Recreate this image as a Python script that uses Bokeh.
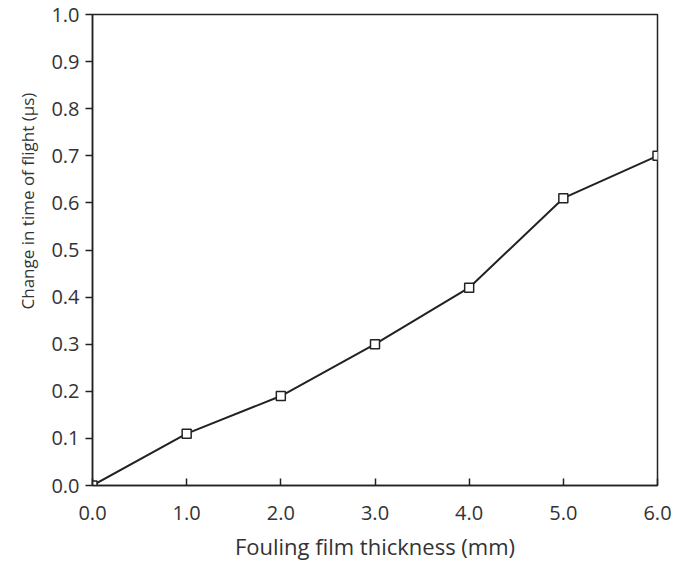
from bokeh.plotting import figure
from bokeh.models import FixedTicker, Range1d, CustomJSTickFormatter, Title
from bokeh.embed import file_html
from bokeh.resources import INLINE

thickness_mm = [0.0, 1.0, 2.0, 3.0, 4.0, 5.0, 6.0]
delta_tof_us = [0.0, 0.11, 0.19, 0.30, 0.42, 0.61, 0.70]
x_ticks = [0, 1, 2, 3, 4, 5, 6]
y_ticks = [0.0, 0.1, 0.2, 0.3, 0.4, 0.5, 0.6, 0.7, 0.8, 0.9, 1.0]

p = figure(width=675, height=563, output_backend="svg", toolbar_location=None,
           x_range=Range1d(0, 6), y_range=Range1d(0, 1.0),
           min_border_left=92, min_border_right=18, min_border_top=14, min_border_bottom=77)
p.grid.visible = False
p.outline_line_color = "#222222"
p.outline_line_width = 1.5

p.line(thickness_mm, delta_tof_us, line_color="#222222", line_width=2)
p.scatter(thickness_mm, delta_tof_us, marker="square", size=9, fill_color="white",
          line_color="#222222", line_width=1.5)

font = "Open Sans"
p.xaxis.ticker = FixedTicker(ticks=x_ticks)
p.yaxis.ticker = FixedTicker(ticks=y_ticks)
p.xaxis.formatter = CustomJSTickFormatter(code="return tick.toFixed(1);")
p.yaxis.formatter = CustomJSTickFormatter(code="return tick.toFixed(1);")
for ax in (p.xaxis, p.yaxis):
    ax.axis_line_color = "#222222"
    ax.axis_line_width = 1.5
    ax.major_tick_line_color = "#222222"
    ax.major_tick_line_width = 1.5
    ax.minor_tick_line_color = None
    ax.major_label_text_font = font
    ax.major_label_text_font_size = "20px"
    ax.major_label_text_color = "#333333"
    ax.major_label_text_line_height = 1.0
    ax.axis_label_text_font = font
    ax.axis_label_text_font_size = "22px"
    ax.axis_label_text_font_style = "normal"
    ax.axis_label_text_color = "#333333"
    ax.axis_label_text_line_height = 1.0

p.xaxis.major_tick_in = 7
p.xaxis.major_tick_out = 0
p.yaxis.major_tick_in = 0
p.yaxis.major_tick_out = 7
p.xaxis.major_label_standoff = 20
p.yaxis.major_label_standoff = 6
p.xaxis.axis_label = "Fouling film thickness (mm)"
p.xaxis.axis_label_standoff = 8

ylab = Title(text="Change in time of flight (\u03bcs)", align="left", offset=176,
             text_font=font, text_font_size="17px", text_font_style="normal",
             text_color="#333333", standoff=20)
p.add_layout(ylab, "left")

open("out.html", "w").write(file_html(p, INLINE))
